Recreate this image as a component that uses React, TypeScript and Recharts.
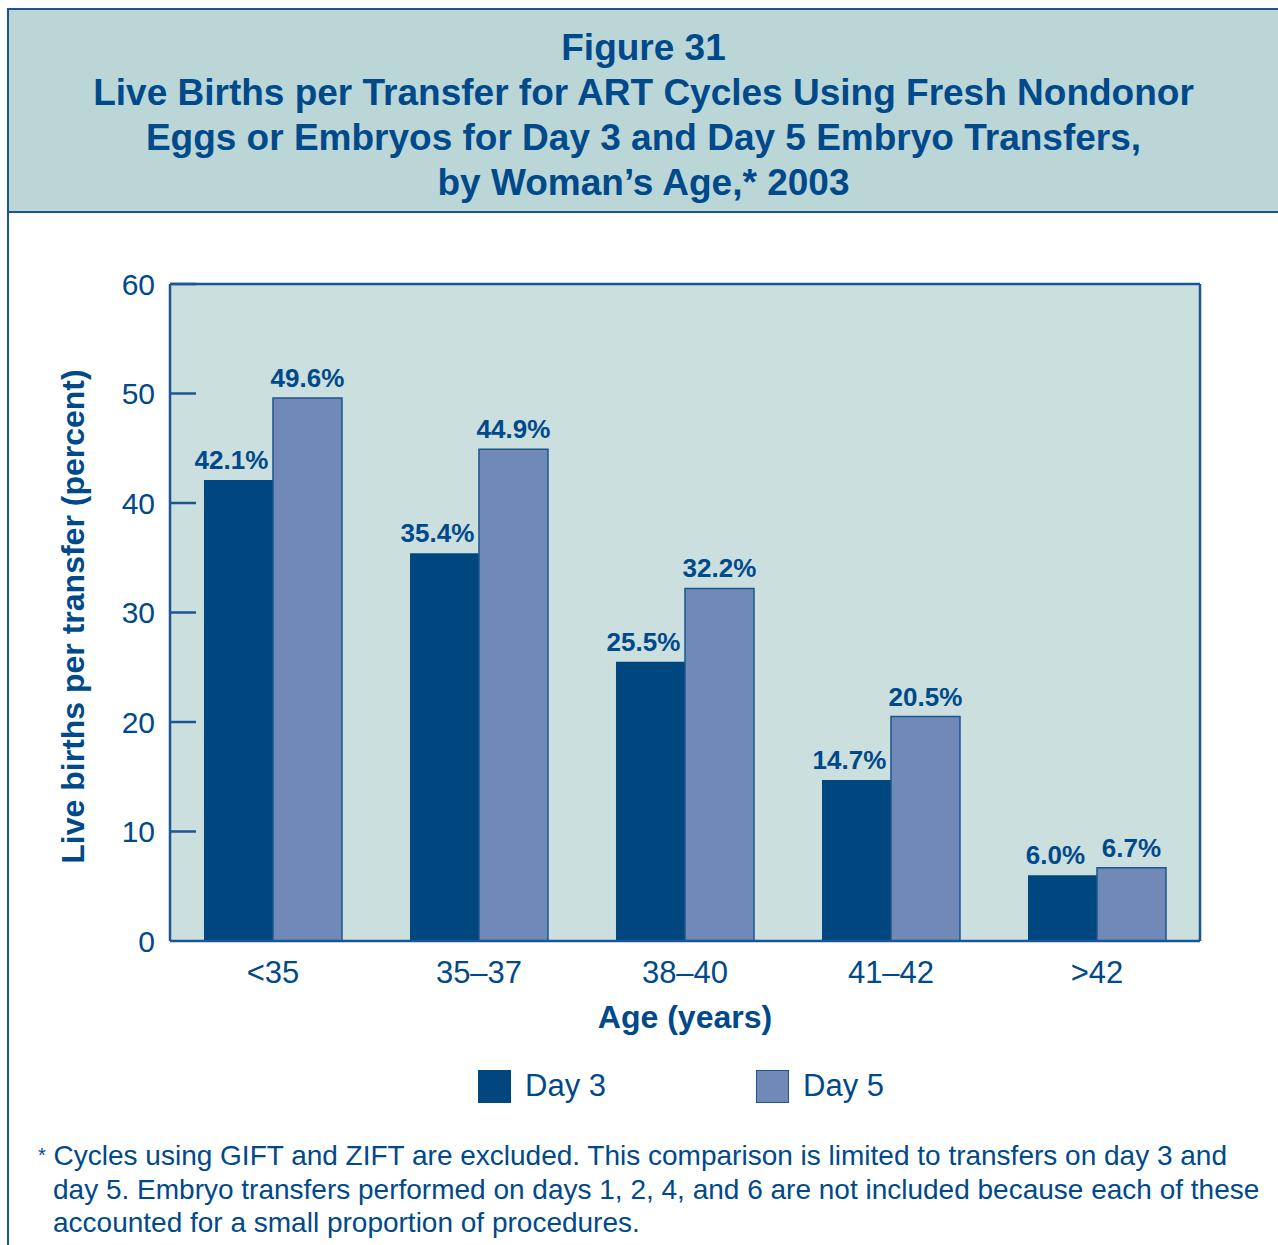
import React from 'react';
import { BarChart, Bar, XAxis, YAxis, CartesianGrid, LabelList, Legend } from 'recharts';

const categories = ['<35', '35–37', '38–40', '41–42', '>42'];
const day3Values = [42.1, 35.4, 25.5, 14.7, 6.0];
const day5Values = [49.6, 44.9, 32.2, 20.5, 6.7];
const yTicks = [0, 10, 20, 30, 40, 50, 60];

const data = categories.map((age, i) => ({ age, day3: day3Values[i], day5: day5Values[i] }));

const BLUE = '#00467f';
const TEXT = '#00498a';
const LIGHT = '#7089b6';
const FRAME = '#1b5690';
const PLOT_BG = '#cbdfdf';
const BAND = '#bbd6d6';
const FONT = '"Liberation Sans", Arial, Helvetica, sans-serif';

const YTick = (props: any) => {
  const { x, y, payload } = props;
  return (
    <g>
      <text x={x} y={y} dy="0.36em" textAnchor="end" fill={TEXT} fontSize={30} fontFamily={FONT}>
        {payload.value}
      </text>
      {payload.value !== 0 && (
        <line x1={x + 15} x2={x + 41} y1={y} y2={y} stroke={FRAME} strokeWidth={2.5} />
      )}
    </g>
  );
};

const YLabel = (props: any) => {
  const { viewBox } = props;
  const cx = viewBox.x + 32;
  const cy = viewBox.y + viewBox.height / 2 + 4;
  return (
    <text
      x={cx}
      y={cy}
      dy="0.36em"
      textAnchor="middle"
      transform={`rotate(-90, ${cx}, ${cy})`}
      fill={TEXT}
      fontSize={32}
      fontWeight="bold"
      fontFamily={FONT}
    >
      Live births per transfer (percent)
    </text>
  );
};

const LegendContent = (props: any) => {
  const { payload } = props;
  return (
    <div
      style={{
        height: 70,
        display: 'flex',
        alignItems: 'center',
        justifyContent: 'center',
        paddingLeft: 84,
        fontFamily: FONT,
        fontSize: 31,
        color: TEXT,
      }}
    >
      {(payload || []).map((entry: any, i: number) => (
        <div key={i} style={{ display: 'flex', alignItems: 'center', marginLeft: i === 0 ? 0 : 150 }}>
          <span
            style={{
              display: 'inline-block',
              width: 33,
              height: 33,
              boxSizing: 'border-box',
              background: entry.color,
              border: i === 0 ? 'none' : `1.5px solid ${FRAME}`,
              marginRight: 14,
            }}
          />
          <span>{entry.value}</span>
        </div>
      ))}
    </div>
  );
};

const pct = (v: any) => `${Number(v).toFixed(1)}%`;

export default function App() {
  return (
    <div style={{ position: 'absolute', left: 0, top: 0, width: 1278, height: 1245, overflow: 'hidden', background: '#fff', fontFamily: FONT }}>
      {/* outer frame */}
      <div
        style={{
          position: 'absolute',
          left: 7,
          top: 8,
          width: 1290,
          height: 1260,
          border: `2px solid ${FRAME}`,
          boxSizing: 'border-box',
        }}
      />
      {/* title band */}
      <div
        style={{
          position: 'absolute',
          left: 7,
          top: 8,
          width: 1271,
          height: 205,
          boxSizing: 'border-box',
          background: BAND,
          borderTop: `2px solid ${FRAME}`,
          borderLeft: `2px solid ${FRAME}`,
          borderBottom: `2.5px solid ${FRAME}`,
          color: TEXT,
          fontWeight: 'bold',
          fontSize: 37,
          lineHeight: '45px',
          textAlign: 'center',
          paddingTop: 15,
        }}
      >
        Figure 31
        <br />
        Live Births per Transfer for ART Cycles Using Fresh Nondonor
        <br />
        Eggs or Embryos for Day 3 and Day 5 Embryo Transfers,
        <br />
        by Woman’s Age,* 2003
      </div>

      <div style={{ position: 'absolute', left: 0, top: 0 }}>
        <BarChart
          width={1278}
          height={1130}
          data={data}
          margin={{ top: 283, right: 77, left: 40, bottom: 9 }}
          barCategoryGap="16.5%"
          barGap={0}
        >
          <CartesianGrid fill={PLOT_BG} horizontal={false} vertical={false} />
          <XAxis
            dataKey="age"
            height={110}
            tickLine={false}
            tickSize={0}
            tickMargin={20}
            axisLine={{ stroke: FRAME, strokeWidth: 2.5 }}
            tick={{ fill: TEXT, fontSize: 31, fontFamily: FONT }}
            label={{
              value: 'Age (years)',
              position: 'insideTop',
              offset: 64,
              fill: TEXT,
              fontSize: 32,
              fontWeight: 'bold',
              fontFamily: FONT,
            }}
          />
          <XAxis
            xAxisId="top"
            orientation="top"
            dataKey="age"
            height={1}
            tick={false}
            tickLine={false}
            axisLine={{ stroke: FRAME, strokeWidth: 2.5 }}
          />
          <YAxis
            width={130}
            domain={[0, 60]}
            ticks={yTicks}
            tickLine={false}
            tickSize={0}
            tickMargin={15}
            axisLine={{ stroke: FRAME, strokeWidth: 2.5 }}
            tick={<YTick />}
            label={<YLabel />}
          />
          <YAxis
            yAxisId="right"
            orientation="right"
            width={1}
            domain={[0, 60]}
            tick={false}
            tickLine={false}
            axisLine={{ stroke: FRAME, strokeWidth: 2.5 }}
          />
          <Legend verticalAlign="bottom" wrapperStyle={{ left: 0, width: 1278 }} content={<LegendContent />} />
          <Bar dataKey="day3" name="Day 3" fill={BLUE} isAnimationActive={false}>
            <LabelList
              dataKey="day3"
              position="top"
              offset={11}
              dx={-7}
              formatter={pct}
              fill={TEXT}
              fontSize={26}
              fontWeight="bold"
              fontFamily={FONT}
            />
          </Bar>
          <Bar dataKey="day5" name="Day 5" fill={LIGHT} stroke={FRAME} strokeWidth={1.5} isAnimationActive={false}>
            <LabelList
              dataKey="day5"
              position="top"
              offset={11}
              formatter={pct}
              fill={TEXT}
              fontSize={26}
              fontWeight="bold"
              fontFamily={FONT}
            />
          </Bar>
        </BarChart>
      </div>

      {/* footnote */}
      <div
        style={{
          position: 'absolute',
          left: 38,
          top: 1139,
          color: TEXT,
          fontSize: 28,
          lineHeight: '33.5px',
          whiteSpace: 'nowrap',
          paddingLeft: 15,
          textIndent: -15,
        }}
      >
        <span style={{ fontSize: 20, verticalAlign: 3 }}>*</span>
        {' '}Cycles using GIFT and ZIFT are excluded. This comparison is limited to transfers on day 3 and
        <br />
        day 5. Embryo transfers performed on days 1, 2, 4, and 6 are not included because each of these
        <br />
        accounted for a small proportion of procedures.
      </div>
    </div>
  );
}
